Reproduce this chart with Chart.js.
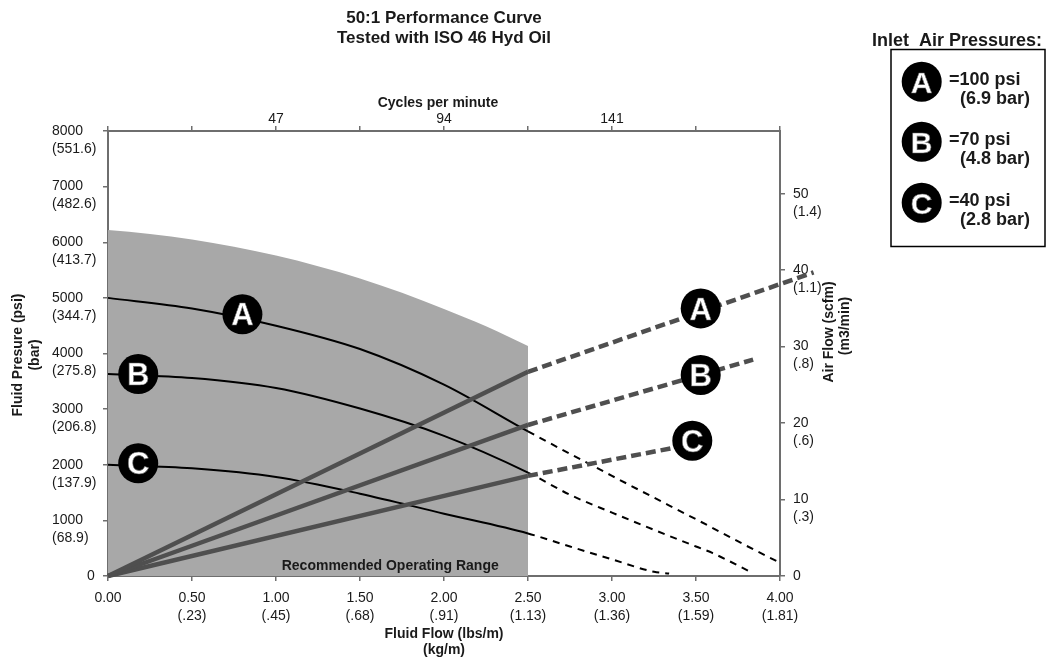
<!DOCTYPE html>
<html><head><meta charset="utf-8">
<script src="https://cdn.jsdelivr.net/npm/chart.js@4"></script>
<style>html,body{margin:0;padding:0;background:#fff}canvas{display:block}</style>
</head><body>
<canvas id="c" width="1051" height="661"></canvas>
<script>
// ---- tick values / labels ----
const flowTicks = [0, 0.5, 1, 1.5, 2, 2.5, 3, 3.5, 4];
const flowTickLabels = [['0.00'], ['0.50', '(.23)'], ['1.00', '(.45)'], ['1.50', '(.68)'], ['2.00', '(.91)'],
  ['2.50', '(1.13)'], ['3.00', '(1.36)'], ['3.50', '(1.59)'], ['4.00', '(1.81)']];
const cycleLabels = ['', '', '47', '', '94', '', '141', '', ''];
const pressureTicks = [0, 1000, 2000, 3000, 4000, 5000, 6000, 7000, 8000];
const pressureTickLabels = [['         0', ''], ['1000', '(68.9)'], ['2000', '(137.9)'], ['3000', '(206.8)'],
  ['4000', '(275.8)'], ['5000', '(344.7)'], ['6000', '(413.7)'], ['7000', '(482.6)'], ['8000', '(551.6)']];
const airTicks = [0, 10, 20, 30, 40, 50];
const airTickLabels = [['0', ''], ['10', '(.3)'], ['20', '(.6)'], ['30', '(.8)'], ['40', '(1.1)'], ['50', '(1.4)']];

// ---- series (fluid flow lbs/m -> fluid pressure psi) ----
const rangeX = [0, 0.25, 0.5, 0.75, 1, 1.25, 1.5, 1.75, 2, 2.25, 2.5];
const rangeTop = [6220, 6150, 6050, 5920, 5760, 5570, 5350, 5090, 4800, 4490, 4135];
const pressAX = [0, 0.5, 1, 1.5, 2, 2.5, 3, 3.5, 4, 4.18];
const pressAY = [5000, 4810, 4500, 4080, 3440, 2600, 1800, 1020, 240, 0];
const pressBX = [0, 0.5, 1, 1.5, 2, 2.5, 2.75, 3, 3.25, 3.5, 3.6, 3.84];
const pressBY = [3630, 3560, 3380, 3010, 2520, 1860, 1460, 1140, 830, 530, 410, 50];
const pressCX = [0, 0.5, 1, 1.5, 2, 2.5, 2.75, 3, 3.25, 3.34];
const pressCY = [2000, 1935, 1780, 1480, 1120, 765, 530, 300, 75, 45];
// ---- air flow (scfm) ----
const airAX = [0, 2.5, 4.2];
const airAY = [0, 26.7, 39.7];
const airBX = [0, 2.5, 3.84];
const airBY = [0, 19.75, 28.3];
const airCX = [0, 2.5, 3.4];
const airCY = [0, 13.1, 16.9];
// ---- badge label positions (data units) ----
const badgeLetters = ['A', 'B', 'C'];
const pressBadgeX = [0.8, 0.18, 0.18];
const pressBadgeY = [4705, 3631, 2026];
const airBadgeX = [3.528, 3.528, 3.478];
const airBadgeY = [35.0, 26.3, 17.7];
const legendLines = [['=100 psi', '(6.9 bar)'], ['=70 psi', '(4.8 bar)'], ['=40 psi', '(2.8 bar)']];

const FAM = "'Liberation Sans', Arial, Helvetica, sans-serif";
const TXT = '#1a1a1a';
const AXC = '#6e6e6e';
const AIR = '#4f4f4f';
const SPLIT = 2.5;

function pts(xs, ys) { return xs.map((x, i) => ({x: x, y: ys[i]})); }
function dashAfter(d) { return {borderDash: c => (c.p0.parsed.x >= SPLIT - 1e-9 ? d : undefined)}; }

function airSet(xs, ys) {
  return {data: pts(xs, ys), yAxisID: 'y2', xAxisID: 'x', borderColor: AIR, borderWidth: 4.5,
    pointRadius: 0, tension: 0, fill: false, order: 1, clip: false, segment: dashAfter([10, 5])};
}
function pressSet(xs, ys) {
  return {data: pts(xs, ys), yAxisID: 'y', xAxisID: 'x', borderColor: '#000', borderWidth: 2,
    pointRadius: 0, cubicInterpolationMode: 'monotone', fill: false, order: 2, clip: false,
    segment: dashAfter([7, 6])};
}

function setTicks(vals) { return s => { s.ticks = vals.map(v => ({value: v})); }; }
const gridOpt = {display: true, drawOnChartArea: false, drawTicks: true, tickLength: 5, color: AXC, lineWidth: 1.5};
const borderOpt = {display: true, color: AXC, width: 2};
const tickFont = {family: FAM, size: 14, lineHeight: '18px'};

function badge(ctx, cx, cy, letter, r, size) {
  ctx.save();
  ctx.beginPath();
  ctx.arc(cx, cy, r, 0, Math.PI * 2);
  ctx.fillStyle = '#000';
  ctx.fill();
  ctx.font = 'bold ' + size + 'px ' + FAM;
  ctx.textAlign = 'center';
  ctx.textBaseline = 'alphabetic';
  ctx.fillStyle = '#fff';
  ctx.fillText(letter, cx, cy + size * 0.36);
  ctx.lineWidth = 0.6;
  ctx.strokeStyle = '#666';
  ctx.strokeText(letter, cx, cy + size * 0.36);
  ctx.restore();
}

function text(ctx, s, x, y, font, align, rot) {
  ctx.save();
  ctx.translate(x, y);
  if (rot) ctx.rotate(rot);
  ctx.font = font;
  ctx.fillStyle = TXT;
  ctx.textAlign = align || 'center';
  ctx.textBaseline = 'middle';
  ctx.fillText(s, 0, 0);
  ctx.restore();
}

const decor = {
  id: 'decor',
  afterDatasetsDraw(chart) {
    const ctx = chart.ctx;
    const sx = chart.scales.x, sy = chart.scales.y, sy2 = chart.scales.y2;
    // recommended range caption
    text(ctx, 'Recommended Operating Range', sx.getPixelForValue(1.68), sy.getPixelForValue(170),
      'bold 14px ' + FAM, 'center');
    for (let i = 0; i < 3; i++) {
      badge(ctx, sx.getPixelForValue(pressBadgeX[i]), sy.getPixelForValue(pressBadgeY[i]), badgeLetters[i], 20, 31);
      badge(ctx, sx.getPixelForValue(airBadgeX[i]), sy2.getPixelForValue(airBadgeY[i]), badgeLetters[i], 20, 31);
    }
  },
  afterDraw(chart) {
    const ctx = chart.ctx;
    const b = 'bold 14px ' + FAM;
    // main title
    text(ctx, '50:1 Performance Curve', 444, 18.5, 'bold 17px ' + FAM);
    text(ctx, 'Tested with ISO 46 Hyd Oil', 444, 38.5, 'bold 17px ' + FAM);
    // top axis title
    text(ctx, 'Cycles per minute', 438, 103.5, b);
    // left axis title
    text(ctx, 'Fluid Presure (psi)', 18, 355, b, 'center', -Math.PI / 2);
    text(ctx, '(bar)', 35, 355, b, 'center', -Math.PI / 2);
    // right axis title
    text(ctx, 'Air Flow (scfm)', 829, 332, b, 'center', -Math.PI / 2);
    text(ctx, '(m3/min)', 845, 326, b, 'center', -Math.PI / 2);
    // legend
    text(ctx, 'Inlet  Air Pressures:', 872, 41, 'bold 18px ' + FAM, 'left');
    ctx.save();
    ctx.strokeStyle = '#000';
    ctx.lineWidth = 1.5;
    ctx.strokeRect(891, 49.5, 154, 197);
    ctx.restore();
    const cys = [81.7, 141.7, 202.7];
    for (let i = 0; i < 3; i++) {
      badge(ctx, 921.7, cys[i], badgeLetters[i], 20, 30);
      text(ctx, legendLines[i][0], 949, cys[i] - 1.5, 'bold 18px ' + FAM, 'left');
      text(ctx, legendLines[i][1], 960, cys[i] + 17.5, 'bold 18px ' + FAM, 'left');
    }
  }
};

new Chart(document.getElementById('c'), {
  type: 'line',
  data: {
    datasets: [
      airSet(airAX, airAY), airSet(airBX, airBY), airSet(airCX, airCY),
      pressSet(pressAX, pressAY), pressSet(pressBX, pressBY), pressSet(pressCX, pressCY),
      {data: pts(rangeX, rangeTop), yAxisID: 'y', xAxisID: 'x', borderWidth: 0, borderColor: 'rgba(0,0,0,0)',
        backgroundColor: '#a8a8a8', fill: 'origin', pointRadius: 0, cubicInterpolationMode: 'monotone', order: 3}
    ]
  },
  options: {
    responsive: false,
    animation: false,
    devicePixelRatio: 1,
    layout: {padding: {left: 52, right: 211, top: 0, bottom: 0}},
    plugins: {legend: {display: false}, tooltip: {enabled: false}, title: {display: false}},
    scales: {
      x: {type: 'linear', position: 'bottom', min: 0, max: 4,
        afterBuildTicks: setTicks(flowTicks), afterFit: s => { s.height = 85; },
        ticks: {callback: (v, i) => flowTickLabels[i], font: tickFont, color: TXT, padding: 8,
          maxRotation: 0, minRotation: 0, autoSkip: false},
        grid: gridOpt, border: borderOpt,
        title: {display: true, text: ['Fluid Flow (lbs/m)', '(kg/m)'], color: TXT,
          font: {family: FAM, size: 14, weight: 'bold', lineHeight: '16px'}, padding: {top: 0, bottom: 3}}},
      x2: {type: 'linear', position: 'top', min: 0, max: 4,
        afterBuildTicks: setTicks(flowTicks), afterFit: s => { s.height = 131; },
        ticks: {callback: (v, i) => cycleLabels[i], font: {family: FAM, size: 14, lineHeight: '14px'},
          color: TXT, padding: 0, maxRotation: 0, minRotation: 0, autoSkip: false},
        grid: gridOpt, border: borderOpt},
      y: {type: 'linear', position: 'left', min: 0, max: 8000,
        afterBuildTicks: setTicks(pressureTicks), afterFit: s => { s.width = 56; },
        ticks: {callback: (v, i) => pressureTickLabels[i], font: tickFont, color: TXT,
          crossAlign: 'far', labelOffset: 9, autoSkip: false},
        grid: gridOpt, border: borderOpt},
      y2: {type: 'linear', position: 'right', min: 0, max: 58.2,
        afterBuildTicks: setTicks(airTicks), afterFit: s => { s.width = 60; },
        ticks: {callback: (v, i) => airTickLabels[i], font: tickFont, color: TXT,
          padding: 8, labelOffset: 9, autoSkip: false},
        grid: gridOpt, border: borderOpt}
    }
  },
  plugins: [decor]
});
</script>
</body></html>
